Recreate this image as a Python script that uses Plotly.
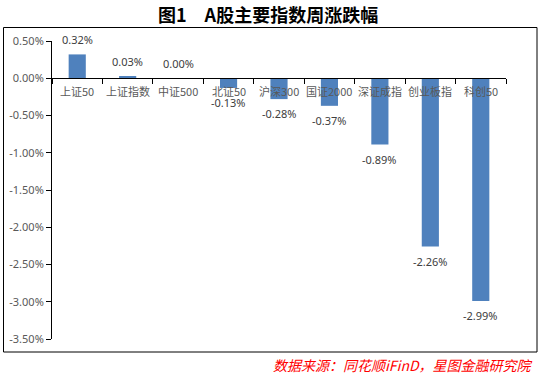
import plotly.graph_objects as go

categories = ["上证50", "上证指数", "中证500", "北证50", "沪深300", "国证2000", "深证成指", "创业板指", "科创50"]
values = [0.32, 0.03, 0.00, -0.13, -0.28, -0.37, -0.89, -2.26, -2.99]
y_ticks = [0.5, 0.0, -0.5, -1.0, -1.5, -2.0, -2.5, -3.0, -3.5]
y_tick_labels = [f"{v:.2f}%" for v in y_ticks]
data_labels = [f"{v:.2f}%" for v in values]

title_text = "图1　A股主要指数周涨跌幅"
source_text = "数据来源：同花顺iFinD，星图金融研究院"

W, H = 540, 377
L, R, T, B = 52, 34, 41, 38
pw, ph = W - L - R, H - T - B

def px_to_paper_x(px):
    return (px - L) / pw

def px_to_paper_y(py):
    return (H - B - py) / ph

fig = go.Figure()
fig.add_trace(go.Bar(
    x=categories, y=values,
    marker=dict(color="#4F81BD", line=dict(width=0)),
    width=0.34,
    hoverinfo="x+y",
))

font_cjk = "Noto Sans CJK SC, Noto Sans, sans-serif"

annotations = []
for c, v, t in zip(categories, values, data_labels):
    if v >= 0:
        annotations.append(dict(x=c, y=v, text=t, showarrow=False, yanchor="bottom",
                                yshift=6, borderpad=0,
                                font=dict(size=11, color="#404040", family="Noto Sans, sans-serif")))
    else:
        annotations.append(dict(x=c, y=v, text=t, showarrow=False, yanchor="top",
                                yshift=-6, borderpad=0,
                                font=dict(size=11, color="#404040", family="Noto Sans, sans-serif")))

# category labels drawn above the bars (as in the reference)
for c in categories:
    annotations.append(dict(x=c, y=0, text=c, showarrow=False, yanchor="top", yshift=-4, borderpad=0,
                            font=dict(size=11, color="#595959", family=font_cjk)))

annotations.append(dict(xref="paper", yref="paper", x=px_to_paper_x(268), y=px_to_paper_y(14),
                        xanchor="center", yanchor="middle", showarrow=False,
                        text=f"<b>{title_text}</b>",
                        font=dict(size=18, color="#000000", family=font_cjk)))

annotations.append(dict(xref="paper", yref="paper", x=px_to_paper_x(535), y=px_to_paper_y(365),
                        xanchor="right", yanchor="middle", showarrow=False,
                        text=f"<i>{source_text}</i>",
                        font=dict(size=14, color="#FF0000", family=font_cjk)))

fig.update_layout(
    width=W, height=H,
    margin=dict(l=L, r=R, t=T, b=B, pad=0, autoexpand=False),
    paper_bgcolor="white", plot_bgcolor="white",
    showlegend=False,
    annotations=annotations,
    shapes=[dict(type="rect", xref="paper", yref="paper",
                 x0=px_to_paper_x(3.5), x1=px_to_paper_x(537), y0=px_to_paper_y(352), y1=px_to_paper_y(27.5),
                 line=dict(color="#000000", width=1), fillcolor="rgba(0,0,0,0)", layer="below")],
    xaxis=dict(
        type="category", anchor="free", position=(0 - y_ticks[-1]) / (y_ticks[0] - y_ticks[-1]),
        showline=True, linecolor="#000000", linewidth=1,
        ticks="outside", tickson="boundaries", ticklen=5, tickcolor="#000000",
        showticklabels=False, automargin=False,
        showgrid=False, zeroline=False,
    ),
    yaxis=dict(
        range=[y_ticks[-1], y_ticks[0]], automargin=False,
        tickvals=y_ticks, ticktext=y_tick_labels,
        showline=True, linecolor="#000000", linewidth=1,
        ticks="outside", ticklen=5, tickcolor="#000000",
        tickfont=dict(size=11, color="#595959", family="Noto Sans, sans-serif"),
        showgrid=False, zeroline=False,
    ),
)

fig.write_html("out.html", config={"displayModeBar": False},
               post_script="document.body.style.margin='0';document.body.style.overflow='hidden';")
